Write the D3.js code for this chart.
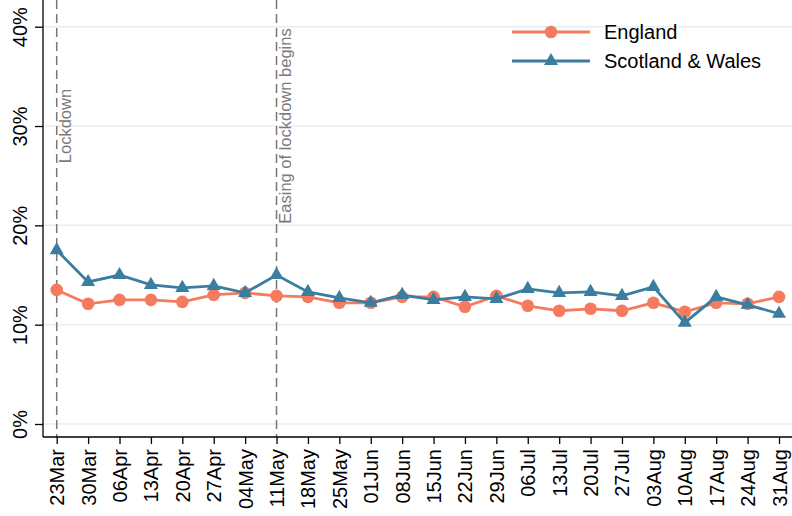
<!DOCTYPE html>
<html>
<head>
<meta charset="utf-8">
<script src="https://cdn.jsdelivr.net/npm/d3@7"></script>
<style>
  html, body { margin: 0; padding: 0; background: #fff; }
  svg { display: block; font-family: "Liberation Sans", Arial, sans-serif; }
</style>
</head>
<body>
<svg id="chart" width="792" height="516"></svg>
<script>
// Weekly dates (week commencing)
const weeks = ["23Mar","30Mar","06Apr","13Apr","20Apr","27Apr","04May","11May","18May","25May",
  "01Jun","08Jun","15Jun","22Jun","29Jun","06Jul","13Jul","20Jul","27Jul","03Aug","10Aug",
  "17Aug","24Aug","31Aug"];

// Percentages by nation
const england = [13.5,12.1,12.5,12.5,12.3,13.0,13.2,12.9,12.8,12.2,12.2,12.8,12.8,11.8,12.9,
  11.9,11.4,11.6,11.4,12.2,11.3,12.2,12.1,12.8];
const scotlandWales = [17.5,14.3,15.0,14.0,13.7,13.9,13.2,15.0,13.3,12.7,12.2,13.0,12.5,12.8,12.6,
  13.6,13.2,13.3,12.9,13.8,10.2,12.8,12.0,11.1];

const yTicks = [0, 10, 20, 30, 40];

// Policy events marked on the chart
const events = [
  { week: "23Mar", label: "Lockdown" },
  { week: "11May", label: "Easing of lockdown begins" }
];

const seriesList = [
  { name: "England", values: england, color: "#f47b5e", marker: "circle" },
  { name: "Scotland & Wales", values: scotlandWales, color: "#3a7d9f", marker: "triangle" }
];

const svg = d3.select("#chart");
const axisX = 43, axisY = 437, rightEdge = 792;

const x = d3.scalePoint().domain(weeks).range([56.7, 779]);
const y = d3.scaleLinear().domain([0, 40]).range([424, 26.7]);

// Gridlines
svg.append("g").selectAll("line").data(yTicks).join("line")
  .attr("x1", axisX).attr("x2", rightEdge)
  .attr("y1", d => y(d)).attr("y2", d => y(d))
  .attr("stroke", "#e6eef3").attr("stroke-width", 1.5);

// Event markers
const ev = svg.append("g");
ev.selectAll("line").data(events).join("line")
  .attr("x1", d => x(d.week)).attr("x2", d => x(d.week))
  .attr("y1", 0).attr("y2", axisY)
  .attr("stroke", "#777").attr("stroke-width", 1.5)
  .attr("stroke-dasharray", "9,5");
ev.selectAll("text").data(events).join("text")
  .attr("transform", d => `translate(${x(d.week) + 14},${y(30)}) rotate(-90)`)
  .attr("text-anchor", "middle")
  .attr("font-size", 16.5)
  .attr("fill", "#7a7a7a")
  .text(d => d.label);

// Series
const line = d3.line().x((d, i) => x(weeks[i])).y(d => y(d));
const tri = d3.symbol().type(d3.symbolTriangle).size(85);

seriesList.forEach(s => {
  const g = svg.append("g");
  g.append("path").datum(s.values)
    .attr("d", line).attr("fill", "none")
    .attr("stroke", s.color).attr("stroke-width", 2.8);
  if (s.marker === "circle") {
    g.selectAll("circle").data(s.values).join("circle")
      .attr("cx", (d, i) => x(weeks[i])).attr("cy", d => y(d))
      .attr("r", 6.3).attr("fill", s.color);
  } else {
    g.selectAll("path.m").data(s.values).join("path").attr("class", "m")
      .attr("d", tri)
      .attr("transform", (d, i) => `translate(${x(weeks[i])},${y(d)})`)
      .attr("fill", s.color);
  }
});

// Y axis
const yAxis = svg.append("g").attr("transform", `translate(${axisX},0)`)
  .call(d3.axisLeft(y).tickValues(yTicks).tickFormat(d => d + "%").tickSize(8).tickSizeOuter(0));
yAxis.select(".domain").remove();
yAxis.append("line").attr("x1", 0).attr("x2", 0).attr("y1", 0).attr("y2", axisY)
  .attr("stroke", "#000").attr("stroke-width", 1.3);
yAxis.selectAll(".tick line").attr("stroke", "#000").attr("stroke-width", 1.3);
yAxis.selectAll(".tick text")
  .attr("font-size", 20).attr("font-family", "Liberation Sans, Arial, sans-serif")
  .attr("fill", "#000")
  .attr("text-anchor", "middle")
  .attr("x", null).attr("dy", null)
  .attr("transform", "translate(-16,0) rotate(-90)");

// X axis
const xAxis = svg.append("g").attr("transform", `translate(0,${axisY})`)
  .call(d3.axisBottom(x).tickSize(7).tickSizeOuter(0));
xAxis.select(".domain").remove();
xAxis.append("line").attr("x1", axisX).attr("x2", rightEdge).attr("y1", 0).attr("y2", 0)
  .attr("stroke", "#000").attr("stroke-width", 1.3);
xAxis.selectAll(".tick line").attr("stroke", "#000").attr("stroke-width", 1.3);
xAxis.selectAll(".tick text")
  .attr("font-size", 20).attr("font-family", "Liberation Sans, Arial, sans-serif")
  .attr("fill", "#000")
  .attr("text-anchor", "end")
  .attr("y", null).attr("dy", "0.35em")
  .attr("transform", "translate(0,12) rotate(-90)");

// Legend
const legend = svg.append("g");
seriesList.forEach((s, i) => {
  const ly = 32 + i * 29;
  const row = legend.append("g");
  row.append("line").attr("x1", 512).attr("x2", 590).attr("y1", ly).attr("y2", ly)
    .attr("stroke", s.color).attr("stroke-width", 2.8);
  if (s.marker === "circle") {
    row.append("circle").attr("cx", 551).attr("cy", ly).attr("r", 6.3).attr("fill", s.color);
  } else {
    row.append("path").attr("d", tri).attr("transform", `translate(551,${ly})`).attr("fill", s.color);
  }
  row.append("text").attr("x", 604).attr("y", ly).attr("dy", "0.35em")
    .attr("font-size", 20).attr("fill", "#000").text(s.name);
});
</script>
</body>
</html>
